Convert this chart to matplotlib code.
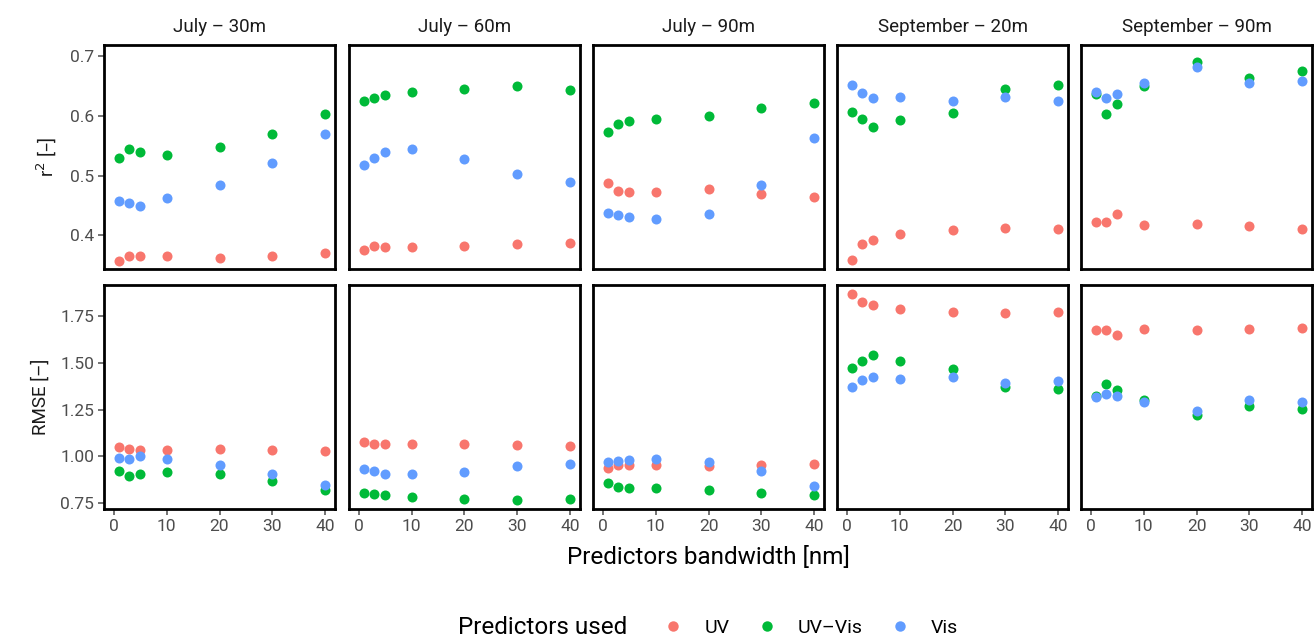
import numpy as np
import matplotlib
matplotlib.use("Agg")
import matplotlib.pyplot as plt
from matplotlib.lines import Line2D

plt.rcParams['font.family'] = ['Roboto', 'DejaVu Sans']

# bandas (nm) e paineis
bandwidth = [1, 3, 5, 10, 20, 30, 40]
paineis = ['July – 30m', 'July – 60m', 'July – 90m', 'September – 20m', 'September – 90m']
grupos = ['UV', 'UV–Vis', 'Vis']
cores = {'UV': '#F8766D', 'UV–Vis': '#00BA38', 'Vis': '#619CFF'}

# r2 por painel
r2_uv = [
    [0.358, 0.365, 0.366, 0.366, 0.363, 0.365, 0.371],
    [0.376, 0.382, 0.381, 0.381, 0.382, 0.386, 0.387],
    [0.487, 0.474, 0.473, 0.473, 0.477, 0.469, 0.465],
    [0.359, 0.385, 0.393, 0.403, 0.409, 0.412, 0.410],
    [0.423, 0.423, 0.436, 0.418, 0.419, 0.415, 0.410],
]
r2_uvvis = [
    [0.529, 0.544, 0.539, 0.534, 0.547, 0.569, 0.602],
    [0.624, 0.629, 0.634, 0.640, 0.644, 0.649, 0.643],
    [0.572, 0.586, 0.591, 0.594, 0.600, 0.612, 0.621],
    [0.606, 0.595, 0.581, 0.592, 0.604, 0.645, 0.651],
    [0.637, 0.602, 0.619, 0.649, 0.689, 0.663, 0.674],
]
r2_vis = [
    [0.457, 0.454, 0.449, 0.463, 0.485, 0.521, 0.569],
    [0.518, 0.530, 0.539, 0.545, 0.527, 0.503, 0.490],
    [0.437, 0.434, 0.430, 0.427, 0.435, 0.484, 0.563],
    [0.651, 0.638, 0.629, 0.631, 0.624, 0.631, 0.625],
    [0.640, 0.630, 0.636, 0.655, 0.681, 0.654, 0.658],
]

# RMSE por painel
rmse_uv = [
    [1.050, 1.041, 1.037, 1.036, 1.039, 1.036, 1.027],
    [1.077, 1.066, 1.066, 1.069, 1.066, 1.061, 1.055],
    [0.938, 0.952, 0.954, 0.956, 0.950, 0.957, 0.961],
    [1.867, 1.826, 1.810, 1.786, 1.771, 1.764, 1.768],
    [1.672, 1.672, 1.649, 1.679, 1.675, 1.679, 1.684],
]
rmse_uvvis = [
    [0.922, 0.895, 0.908, 0.918, 0.904, 0.870, 0.821],
    [0.805, 0.800, 0.792, 0.785, 0.775, 0.768, 0.775],
    [0.856, 0.837, 0.832, 0.830, 0.819, 0.803, 0.792],
    [1.471, 1.510, 1.542, 1.508, 1.467, 1.370, 1.362],
    [1.320, 1.386, 1.352, 1.299, 1.219, 1.270, 1.253],
]
rmse_vis = [
    [0.991, 0.989, 1.002, 0.984, 0.956, 0.909, 0.849],
    [0.934, 0.922, 0.909, 0.904, 0.918, 0.947, 0.958],
    [0.973, 0.977, 0.981, 0.986, 0.973, 0.924, 0.845],
    [1.370, 1.407, 1.426, 1.414, 1.423, 1.394, 1.404],
    [1.317, 1.333, 1.324, 1.290, 1.244, 1.299, 1.292],
]

linhas = [
    {'UV': r2_uv, 'UV–Vis': r2_uvvis, 'Vis': r2_vis},
    {'UV': rmse_uv, 'UV–Vis': rmse_uvvis, 'Vis': rmse_vis},
]

fig = plt.figure(figsize=(13.16, 6.4), dpi=100)
W, H = 1316, 640
lefts = [104, 349, 593, 837, 1081]
larg = 231
tops = [45, 285]
alt = 224
ylims = [(0.344, 0.718), (0.72, 1.914)]
cinza = '#4D4D4D'

for r in range(2):
    for c in range(5):
        ax = fig.add_axes([lefts[c] / W, 1 - (tops[r] + alt) / H, larg / W, alt / H])
        ax.tick_params(labelsize=12.5, colors=cinza, width=1.1, length=4, pad=3)
        for g in grupos:
            ax.scatter(bandwidth, linhas[r][g][c], s=52, color=cores[g], linewidths=0, zorder=3)
        ax.set_xlim(-1.8, 41.8)
        ax.set_ylim(*ylims[r])
        ax.set_xticks([0, 10, 20, 30, 40])
        if r == 0:
            ax.set_yticks([0.4, 0.5, 0.6, 0.7])
            ax.set_yticklabels(['0.4', '0.5', '0.6', '0.7'])
            ax.set_xticklabels([])
            ax.tick_params(axis='x', length=0)
            ax.set_title(paineis[c], fontsize=13.5, pad=9, color='#1A1A1A')
        else:
            ax.set_yticks([0.75, 1.00, 1.25, 1.50, 1.75])
            ax.set_yticklabels(['0.75', '1.00', '1.25', '1.50', '1.75'])
        if c > 0:
            ax.set_yticklabels([])
            ax.tick_params(axis='y', length=0)
        for sp in ax.spines.values():
            sp.set_linewidth(2.0)
            sp.set_color('black')
        if c == 0:
            if r == 0:
                ax.set_ylabel('r$^{2}$ [–]', fontsize=13.5, labelpad=8, color='#1A1A1A')
            else:
                ax.set_ylabel('RMSE [–]', fontsize=13.5, labelpad=8, color='#1A1A1A')

fig.text(708 / W, 1 - 557 / H, 'Predictors bandwidth [nm]', ha='center', va='center', fontsize=17.5, color='black')

# legenda
fig.text(543 / W, 1 - 628 / H, 'Predictors used', ha='center', va='center', fontsize=17.5, color='black')
handles = [Line2D([], [], marker='o', linestyle='', markersize=7.5, markeredgewidth=0, color=cores[g]) for g in grupos]
fig.legend(handles, grupos, loc='center left', bbox_to_anchor=(654 / W, 1 - 628 / H), ncol=3, frameon=False,
           fontsize=14, handletextpad=1.0, columnspacing=1.3, borderaxespad=0, handlelength=1.2)

fig.savefig('out.png', dpi=100, facecolor='white')
